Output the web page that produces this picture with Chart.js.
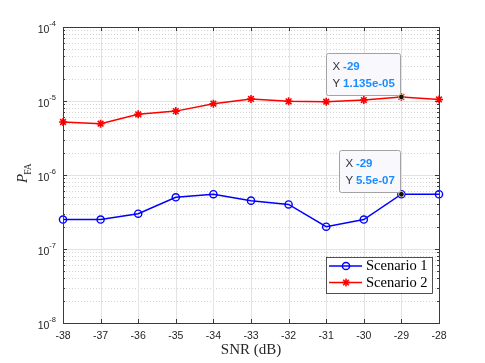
<!DOCTYPE html>
<html>
<head>
<meta charset="utf-8">
<script src="https://cdn.jsdelivr.net/npm/chart.js@4.4.0/dist/chart.umd.min.js"></script>
<style>body{margin:0;background:#fff}</style>
</head>
<body>
<canvas id="chart1" width="485" height="363"></canvas>
<script>
// values
const snr = [-38, -37, -36, -35, -34, -33, -32, -31, -30, -29, -28];
const scenario1 = [2.5e-7, 2.5e-7, 3e-7, 5e-7, 5.5e-7, 4.5e-7, 4e-7, 2e-7, 2.5e-7, 5.5e-7, 5.5e-7];
const scenario2 = [5.2e-6, 4.93e-6, 6.6e-6, 7.3e-6, 9.2e-6, 1.065e-5, 9.9e-6, 9.8e-6, 1.03e-5, 1.135e-5, 1.05e-5];
const seriesNames = ['Scenario 1', 'Scenario 2'];
const yExponents = [-8, -7, -6, -5, -4];
const tipIndex = 9;
const tipLabels = [['-29', '5.5e-07'], ['-29', '1.135e-05']];

const sans = '"Liberation Sans", Arial, sans-serif';
const serif = '"Liberation Serif", "Times New Roman", serif';

const matlabAxes = {
    id: 'matlabAxes',
    beforeDatasetsDraw(chart) {
        const ctx = chart.ctx;
        const a = chart.chartArea;
        const xs = chart.scales.x, ys = chart.scales.y;
        ctx.save();
        // minor y grid (dotted)
        ctx.strokeStyle = '#c8c8c8';
        ctx.lineWidth = 0.8;
        ctx.setLineDash([1, 2]);
        for (let e = -8; e < -4; e++) {
            for (let m = 2; m <= 9; m++) {
                const y = Math.round(ys.getPixelForValue(m * Math.pow(10, e))) + 0.5;
                ctx.beginPath(); ctx.moveTo(a.left, y); ctx.lineTo(a.right, y); ctx.stroke();
            }
        }
        ctx.setLineDash([]);
        // major grid
        ctx.strokeStyle = '#e3e3e3';
        ctx.lineWidth = 1;
        snr.forEach(v => {
            const x = Math.round(xs.getPixelForValue(v)) + 0.5;
            ctx.beginPath(); ctx.moveTo(x, a.top); ctx.lineTo(x, a.bottom); ctx.stroke();
        });
        yExponents.forEach(e => {
            const y = Math.round(ys.getPixelForValue(Math.pow(10, e))) + 0.5;
            ctx.beginPath(); ctx.moveTo(a.left, y); ctx.lineTo(a.right, y); ctx.stroke();
        });
        ctx.restore();
    },
    afterDatasetsDraw(chart) {
        const ctx = chart.ctx;
        const a = chart.chartArea;
        const xs = chart.scales.x, ys = chart.scales.y;
        ctx.save();
        // box and ticks
        ctx.strokeStyle = '#3a3a3a';
        ctx.lineWidth = 1;
        ctx.strokeRect(Math.round(a.left) + 0.5, Math.round(a.top) + 0.5,
            Math.round(a.right - a.left), Math.round(a.bottom - a.top));
        ctx.beginPath();
        snr.forEach(v => {
            const x = Math.round(xs.getPixelForValue(v)) + 0.5;
            ctx.moveTo(x, a.bottom); ctx.lineTo(x, a.bottom - 4);
            ctx.moveTo(x, a.top); ctx.lineTo(x, a.top + 4);
        });
        for (let e = -8; e <= -4; e++) {
            for (let m = 1; m <= 9; m++) {
                if (e === -4 && m > 1) break;
                const y = Math.round(ys.getPixelForValue(m * Math.pow(10, e))) + 0.5;
                const len = m === 1 ? 4 : 2;
                ctx.moveTo(a.left, y); ctx.lineTo(a.left + len, y);
                ctx.moveTo(a.right, y); ctx.lineTo(a.right - len, y);
            }
        }
        ctx.stroke();

        // tick labels
        ctx.fillStyle = '#262626';
        ctx.font = '10.5px ' + sans;
        ctx.textAlign = 'center';
        ctx.textBaseline = 'middle';
        snr.forEach(v => ctx.fillText(String(v), xs.getPixelForValue(v), a.bottom + 13));
        yExponents.forEach(e => {
            const y = ys.getPixelForValue(Math.pow(10, e));
            const sup = String(e);
            ctx.font = '7.5px ' + sans;
            const sw = ctx.measureText(sup).width;
            ctx.textAlign = 'left';
            ctx.fillText(sup, a.left - 7 - sw, y - 3);
            ctx.font = '10.5px ' + sans;
            ctx.textAlign = 'right';
            ctx.fillText('10', a.left - 7 - sw, y + 3);
        });

        // axis titles
        ctx.textAlign = 'center';
        ctx.textBaseline = 'alphabetic';
        ctx.font = '15px ' + serif;
        ctx.fillText('SNR (dB)', (a.left + a.right) / 2, 354);
        ctx.save();
        ctx.translate(27, 183);
        ctx.rotate(-Math.PI / 2);
        ctx.textAlign = 'left';
        ctx.font = 'italic 15px ' + serif;
        ctx.fillText('P', 0, 0);
        const pw = ctx.measureText('P').width;
        ctx.font = '9.5px ' + serif;
        ctx.fillText('FA', pw - 1, 3.5);
        ctx.restore();

        // legend
        const lx = 326, ly = 257, lw = 106, lh = 36;
        ctx.fillStyle = '#fff';
        ctx.fillRect(lx, ly, lw, lh);
        ctx.strokeStyle = '#262626';
        ctx.lineWidth = 0.8;
        ctx.strokeRect(lx + 0.5, ly + 0.5, lw, lh);
        chart.data.datasets.forEach((ds, i) => {
            const y = ly + 9 + i * 16.5;
            ctx.strokeStyle = ds.borderColor;
            ctx.lineWidth = 1.5;
            ctx.beginPath(); ctx.moveTo(lx + 3, y); ctx.lineTo(lx + 36, y); ctx.stroke();
            ctx.fillStyle = 'rgba(0,0,0,0)';
            Chart.helpers.drawPoint(ctx, {pointStyle: ds.pointStyle, radius: ds.pointRadius,
                borderWidth: ds.pointBorderWidth, rotation: 0}, lx + 20, y);
            ctx.fillStyle = '#000';
            ctx.font = '14.5px ' + serif;
            ctx.textAlign = 'left';
            ctx.textBaseline = 'middle';
            ctx.fillText(ds.label, lx + 40, y + 0.5);
        });

        // data tips
        [0, 1].forEach(i => {
            const pt = chart.getDatasetMeta(i).data[tipIndex];
            const [xv, yv] = tipLabels[i];
            ctx.font = 'bold 11.5px ' + sans;
            const vw = Math.max(ctx.measureText(xv).width, ctx.measureText(yv).width);
            const bw = vw + 22, bh = 42;
            const bx = pt.x - 1.5 - bw, by = pt.y - 2 - bh;
            ctx.fillStyle = '#f9f9fd';
            ctx.strokeStyle = '#a3a3a3';
            ctx.lineWidth = 1;
            ctx.beginPath();
            ctx.roundRect(Math.round(bx) + 0.5, Math.round(by) + 0.5, Math.round(bw), bh, 2);
            ctx.fill(); ctx.stroke();
            ctx.textAlign = 'left';
            ctx.textBaseline = 'middle';
            ctx.font = '11.5px ' + sans;
            ctx.fillStyle = '#333';
            ctx.fillText('X', bx + 6.5, by + 14);
            ctx.fillText('Y', bx + 6.5, by + 30.5);
            ctx.font = 'bold 11.5px ' + sans;
            ctx.fillStyle = '#1a8cff';
            ctx.fillText(xv, bx + 17, by + 14);
            ctx.fillText(yv, bx + 17, by + 30.5);
            ctx.beginPath();
            ctx.arc(pt.x, pt.y, 2.8, 0, Math.PI * 2);
            ctx.fillStyle = '#111';
            ctx.fill();
            ctx.strokeStyle = '#eee8b0';
            ctx.lineWidth = 0.8;
            ctx.stroke();
        });
        ctx.restore();
    }
};

const ctx1 = document.getElementById('chart1').getContext('2d');
const chart1 = new Chart(ctx1, {
    type: 'line',
    data: {
        datasets: [{
            label: seriesNames[0],
            data: snr.map((x, i) => ({x: x, y: scenario1[i]})),
            borderColor: '#0000ff',
            backgroundColor: 'rgba(0,0,0,0)',
            borderWidth: 1.5,
            pointStyle: 'circle',
            pointRadius: 3.6,
            pointBorderWidth: 1.4,
            pointBackgroundColor: 'rgba(0,0,0,0)',
            tension: 0,
            clip: false
        }, {
            label: seriesNames[1],
            data: snr.map((x, i) => ({x: x, y: scenario2[i]})),
            borderColor: '#ff0000',
            backgroundColor: 'rgba(0,0,0,0)',
            borderWidth: 1.5,
            pointStyle: 'star',
            pointRadius: 4,
            pointBorderWidth: 1.6,
            pointBackgroundColor: '#ff0000',
            tension: 0,
            clip: false
        }]
    },
    options: {
        responsive: false,
        animation: false,
        devicePixelRatio: 1,
        layout: {padding: {left: 63, right: 46, top: 27, bottom: 40}},
        plugins: {legend: {display: false}, tooltip: {enabled: false}},
        scales: {
            x: {type: 'linear', min: -38, max: -28, display: false},
            y: {type: 'logarithmic', min: 1e-8, max: 1e-4, display: false}
        }
    },
    plugins: [matlabAxes]
});
</script>
</body>
</html>
